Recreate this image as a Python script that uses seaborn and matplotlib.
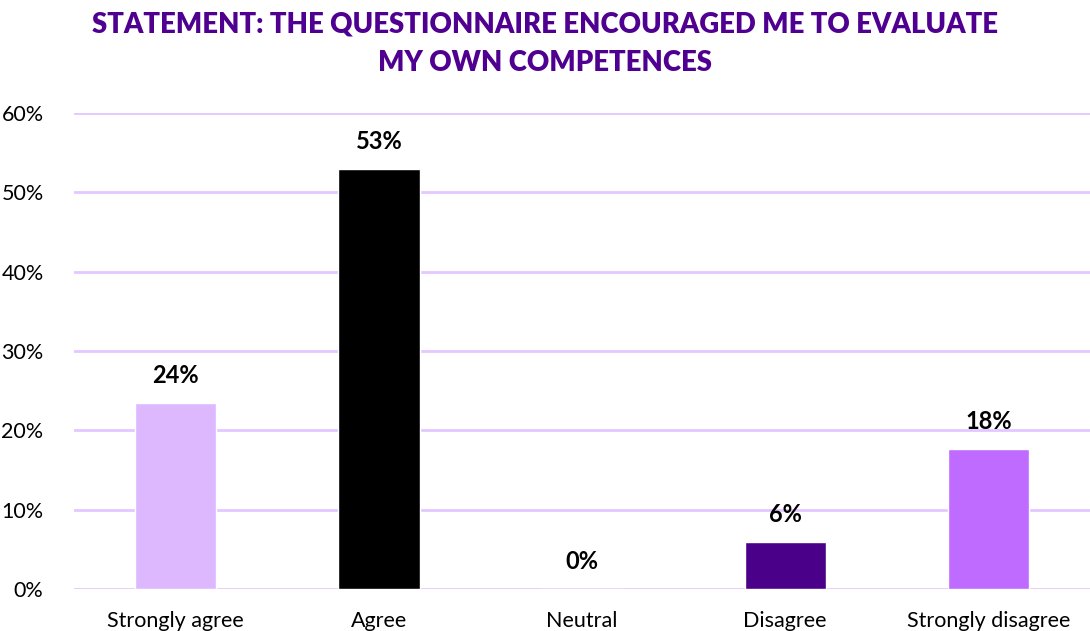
import matplotlib
matplotlib.use("Agg")
import matplotlib.pyplot as plt
import seaborn as sns
import pandas as pd
from matplotlib.ticker import FuncFormatter

categories = ["Strongly agree", "Agree", "Neutral", "Disagree", "Strongly disagree"]
values = [23.5, 52.9, 0.0, 5.9, 17.6]
labels = ["24%", "53%", "0%", "6%", "18%"]
colors = ["#DDB8FF", "#000000", "#A070E0", "#4B008A", "#BF6BFF"]
yticks = [0, 10, 20, 30, 40, 50, 60]

sns.set_theme(style="white")
plt.rcParams['font.family'] = ['Lato', 'DejaVu Sans']

fig = plt.figure(figsize=(10.9, 6.31), dpi=100)
ax = fig.add_axes([0.068, 0.0666, 0.932, 0.7544])

df = pd.DataFrame({"cat": categories, "val": values})
sns.barplot(data=df, x="cat", y="val", hue="cat", palette=colors, order=categories,
            hue_order=categories, legend=False, width=0.4, ax=ax, saturation=1, zorder=3)

ax.set_ylim(0, 60)
ax.set_yticks(yticks)
ax.yaxis.set_major_formatter(FuncFormatter(lambda v, p: f"{int(v)}%"))
ax.grid(axis="y", color="#E3C8FF", linewidth=2, zorder=0)
ax.set_axisbelow(True)
for s in ax.spines.values():
    s.set_visible(False)
ax.tick_params(axis="y", labelsize=15.5, pad=22, length=0, colors="#000000")
ax.tick_params(axis="x", labelsize=15.5, pad=16, length=0, colors="#000000")
ax.set_xlabel("")
ax.set_ylabel("")
ax.set_xlim(-0.5, 4.5)

for i, (v, lab) in enumerate(zip(values, labels)):
    ax.text(i, v + 2.0, lab, ha="center", va="bottom", fontsize=17, fontweight="bold", color="#000000")

fig.text(0.5, 0.982, "STATEMENT: THE QUESTIONNAIRE ENCOURAGED ME TO EVALUATE\nMY OWN COMPETENCES",
         ha="center", va="top", fontsize=19.8, fontweight="heavy", color="#4F0090", linespacing=1.6)

fig.savefig("out.png", dpi=100)
